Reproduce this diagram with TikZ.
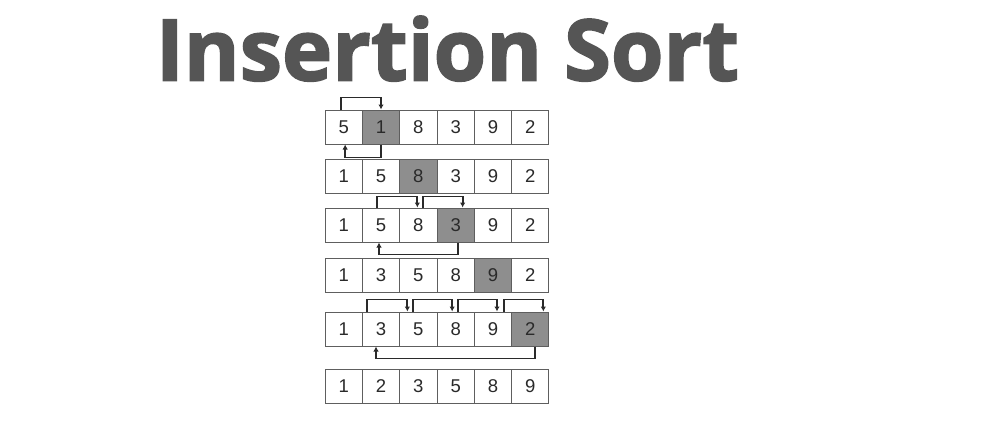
\documentclass[tikz,border=0pt]{standalone}
\usepackage{fontspec}
\setmainfont{Liberation Sans}
\newfontfamily\titlefont[BoldFeatures={FakeBold=2}]{Open Sans}
\usetikzlibrary{arrows.meta}
\definecolor{titlegray}{HTML}{555555}
\definecolor{cellborder}{HTML}{5E5E5E}
\definecolor{cellfill}{HTML}{8E8E8E}
\definecolor{ink}{HTML}{2A2A2A}
\tikzset{
  cell/.style={draw=cellborder, line width=1pt, fill=white, minimum width=37.33pt, minimum height=34pt, inner sep=0pt, text=ink, font=\fontsize{18.5}{18.5}\selectfont},
  keycell/.style={cell, fill=cellfill},
  arr/.style={draw=ink, line width=1.8pt, -{Latex[length=5pt,width=5.5pt]}},
  titletext/.style={text=titlegray, font=\titlefont\bfseries\fontsize{85}{85}\selectfont, inner sep=0pt}
}
\begin{document}
\begin{tikzpicture}[x=1pt,y=-1pt]
\useasboundingbox (0,0) rectangle (1000,420);
\node[titletext, anchor=base] (title) at (447.5,80.5) {Insertion Sort};
% rows: top y, values, index of key cell
\foreach \r/\top/\vals/\k in {1/110/{5,1,8,3,9,2}/1, 2/159/{1,5,8,3,9,2}/2, 3/208/{1,5,8,3,9,2}/3, 4/258/{1,3,5,8,9,2}/4, 5/312/{1,3,5,8,9,2}/5, 6/369/{1,2,3,5,8,9}/9}{
  \foreach \v [count=\c from 0] in \vals {
    \ifnum\c=\k
      \node[keycell] (r\r c\c) at ({325+37.33*\c+18.67},{\top+17}) {\v};
    \else
      \node[cell] (r\r c\c) at ({325+37.33*\c+18.67},{\top+17}) {\v};
    \fi
  }
}
% row 1
\draw[arr] ([xshift=-3pt]r1c0.north) -- ++(0,-12) -| (r1c1.north);
\draw[arr] (r1c1.south) -- ++(0,13) -| ([xshift=1.5pt]r1c0.south);
% row 3
\draw[arr] ([xshift=-4pt]r3c1.north) -- ++(0,-11) -| ([xshift=-1pt]r3c2.north);
\draw[arr] ([xshift=5pt]r3c2.north) -- ++(0,-11) -| ([xshift=7pt]r3c3.north);
\draw[arr] ([xshift=2.5pt]r3c3.south) -- ++(0,12) -| ([xshift=-2pt]r3c1.south);
% row 5
\draw[arr] ([xshift=-14pt]r5c1.north) -- ++(0,-12) -| ([xshift=-11pt]r5c2.north);
\draw[arr] ([xshift=-5pt]r5c2.north) -- ++(0,-12) -| ([xshift=-3.5pt]r5c3.north);
\draw[arr] ([xshift=2.5pt]r5c3.north) -- ++(0,-12) -| ([xshift=4pt]r5c4.north);
\draw[arr] ([xshift=11pt]r5c4.north) -- ++(0,-12) -| ([xshift=13pt]r5c5.north);
\draw[arr] ([xshift=5pt]r5c5.south) -- ++(0,12) -| ([xshift=-5pt]r5c1.south);
\end{tikzpicture}
\end{document}
